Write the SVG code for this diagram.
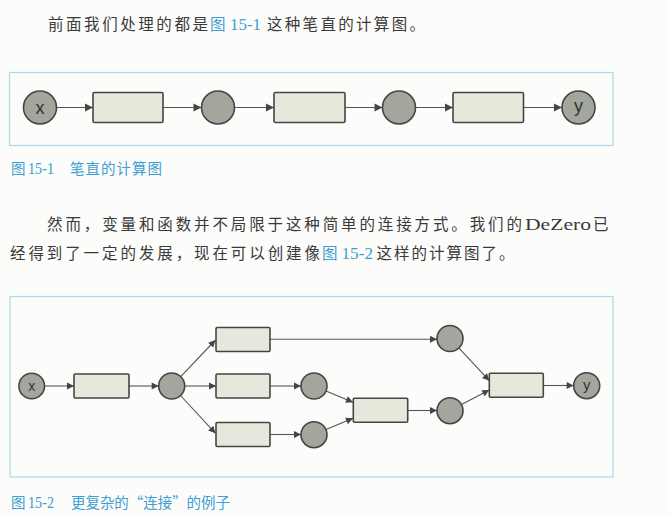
<svg xmlns="http://www.w3.org/2000/svg" width="669" height="516" viewBox="0 0 669 516">
<style>
.bg{fill:#fcfcfa}
.frame{fill:none;stroke:#a6dbe9;stroke-width:1.2}
.var{fill:#a3a69d;stroke:#454545;stroke-width:1.6}
.fn{fill:#e6e8dc;stroke:#454545;stroke-width:1.6}
.edge{fill:none;stroke:#555;stroke-width:1.1}
.body{font-family:"Noto Sans CJK SC","Liberation Serif",serif;font-size:15.5px;fill:#3a3a3a}
.lat{font-family:"Liberation Serif",serif;font-size:17.5px}
.blue{fill:#3d9fd2}
.cap{font-family:"Noto Sans CJK SC",sans-serif;font-size:14.5px;fill:#3d9fd2}
.capn{font-family:"Liberation Serif",serif;font-size:16px;fill:#3d9fd2}
.lbl{font-family:"Liberation Sans",Arial,sans-serif;fill:#333;text-anchor:middle}
</style>
<defs>
<marker id="ah" markerUnits="userSpaceOnUse" markerWidth="10" markerHeight="10" refX="9" refY="5" orient="auto">
<path d="M1,1 L9,5 L1,9 Z" fill="#444"/>
</marker>
<marker id="ahs" markerUnits="userSpaceOnUse" markerWidth="9" markerHeight="9" refX="8" refY="4.5" orient="auto">
<path d="M1,1 L8,4.5 L1,8 Z" fill="#444"/>
</marker>
</defs>
<rect class="bg" x="0" y="0" width="669" height="516"/>

<!-- paragraph 1 -->
<g id="para1">
<text class="body" x="48" y="30" textLength="160" lengthAdjust="spacing">前面我们处理的都是</text>
<text class="body blue" x="210" y="30">图</text>
<text class="body lat blue" x="230" y="30" textLength="31" lengthAdjust="spacingAndGlyphs">15-1</text>
<text class="body" x="267" y="30" textLength="158" lengthAdjust="spacing">这种笔直的计算图。</text>
</g>

<!-- figure 15-1 -->
<rect class="frame" x="9.5" y="72.5" width="603.5" height="73"/>
<g id="f1-edges">
<line class="edge" x1="56.5" y1="107.5" x2="93" y2="107.5" marker-end="url(#ah)"/>
<line class="edge" x1="163" y1="107.5" x2="201.5" y2="107.5" marker-end="url(#ah)"/>
<line class="edge" x1="234.5" y1="107.5" x2="274" y2="107.5" marker-end="url(#ah)"/>
<line class="edge" x1="345" y1="107.5" x2="382.5" y2="107.5" marker-end="url(#ah)"/>
<line class="edge" x1="415.5" y1="107.5" x2="453" y2="107.5" marker-end="url(#ah)"/>
<line class="edge" x1="523.5" y1="107.5" x2="562" y2="107.5" marker-end="url(#ah)"/>
</g>
<g id="f1-x"><circle class="var" cx="40" cy="107.5" r="16.5"/><text class="lbl" x="40" y="113.5" font-size="18">x</text></g>
<g id="f1-f1"><rect class="fn" x="93" y="92.5" width="70" height="30" rx="1.5"/></g>
<g id="f1-v1"><circle class="var" cx="218" cy="107.5" r="16.5"/></g>
<g id="f1-f2"><rect class="fn" x="274" y="92.5" width="71" height="30" rx="1.5"/></g>
<g id="f1-v2"><circle class="var" cx="399" cy="107.5" r="16.5"/></g>
<g id="f1-f3"><rect class="fn" x="453" y="92.5" width="70.5" height="30" rx="1.5"/></g>
<g id="f1-y"><circle class="var" cx="578.5" cy="107.5" r="16.5"/><text class="lbl" x="578.5" y="111.5" font-size="18">y</text></g>

<g id="cap1">
<text class="cap" x="11" y="174">图</text>
<text class="capn" x="28" y="174" textLength="26" lengthAdjust="spacingAndGlyphs">15-1</text>
<text class="cap" x="70" y="174" textLength="92" lengthAdjust="spacing">笔直的计算图</text>
</g>

<!-- paragraph 2 -->
<g id="para2">
<text class="body" x="47" y="229.5" textLength="475" lengthAdjust="spacing">然而，变量和函数并不局限于这种简单的连接方式。我们的</text>
<text class="body lat" x="525" y="229.5" font-size="18.5" textLength="66" lengthAdjust="spacingAndGlyphs">DeZero</text>
<text class="body" x="593" y="229.5">已</text>
<text class="body" x="10" y="259" textLength="310" lengthAdjust="spacing">经得到了一定的发展，现在可以创建像</text>
<text class="body blue" x="322" y="259">图</text>
<text class="body lat blue" x="341.5" y="259" textLength="31.5" lengthAdjust="spacingAndGlyphs">15-2</text>
<text class="body" x="376.5" y="259" textLength="138" lengthAdjust="spacing">这样的计算图了。</text>
</g>

<!-- figure 15-2 -->
<rect class="frame" x="10" y="296.5" width="603" height="180.5"/>
<g id="f2-edges">
<line class="edge" x1="44.5" y1="386" x2="74" y2="386" marker-end="url(#ahs)"/>
<line class="edge" x1="129" y1="386" x2="158.7" y2="386" marker-end="url(#ahs)"/>
<line class="edge" x1="180.7" y1="376.6" x2="215.5" y2="340" marker-end="url(#ahs)"/>
<line class="edge" x1="184.7" y1="386" x2="216" y2="386" marker-end="url(#ahs)"/>
<line class="edge" x1="180.5" y1="395.5" x2="215.5" y2="433.3" marker-end="url(#ahs)"/>
<line class="edge" x1="270" y1="339.3" x2="437" y2="339.3" marker-end="url(#ahs)"/>
<line class="edge" x1="270" y1="386" x2="301" y2="386" marker-end="url(#ahs)"/>
<line class="edge" x1="270" y1="434.5" x2="301" y2="434.5" marker-end="url(#ahs)"/>
<line class="edge" x1="326" y1="391" x2="353" y2="402.3" marker-end="url(#ahs)"/>
<line class="edge" x1="326" y1="429.6" x2="353" y2="418.3" marker-end="url(#ahs)"/>
<line class="edge" x1="407.7" y1="410.5" x2="437" y2="410.5" marker-end="url(#ahs)"/>
<line class="edge" x1="458.8" y1="347.9" x2="489.3" y2="380.7" marker-end="url(#ahs)"/>
<line class="edge" x1="461.5" y1="404.6" x2="489.3" y2="390" marker-end="url(#ahs)"/>
<line class="edge" x1="543.3" y1="385.5" x2="573.7" y2="385.5" marker-end="url(#ahs)"/>
</g>
<g id="f2-x"><circle class="var" cx="31.7" cy="386" r="12.8"/><text class="lbl" x="31.7" y="390.5" font-size="14">x</text></g>
<g id="f2-fA"><rect class="fn" x="74" y="374" width="55" height="24" rx="1.2"/></g>
<g id="f2-vB"><circle class="var" cx="171.7" cy="386" r="13"/></g>
<g id="f2-fTop"><rect class="fn" x="216" y="327.5" width="54" height="24" rx="1.2"/></g>
<g id="f2-fMid"><rect class="fn" x="216" y="374" width="54" height="24" rx="1.2"/></g>
<g id="f2-fBot"><rect class="fn" x="216" y="422.5" width="54" height="24" rx="1.2"/></g>
<g id="f2-vMid"><circle class="var" cx="314" cy="386" r="13"/></g>
<g id="f2-vBot"><circle class="var" cx="314" cy="434.7" r="13"/></g>
<g id="f2-vTop"><circle class="var" cx="450" cy="338.5" r="13"/></g>
<g id="f2-fMerge"><rect class="fn" x="353.3" y="398.3" width="54.4" height="24" rx="1.2"/></g>
<g id="f2-vMerge"><circle class="var" cx="450" cy="410.7" r="13"/></g>
<g id="f2-fFinal"><rect class="fn" x="489.3" y="373.3" width="54" height="24" rx="1.2"/></g>
<g id="f2-y"><circle class="var" cx="586.7" cy="385.7" r="13"/><text class="lbl" x="586.7" y="389.5" font-size="15">y</text></g>

<g id="cap2">
<text class="cap" x="11" y="508">图</text>
<text class="capn" x="28" y="508" textLength="26" lengthAdjust="spacingAndGlyphs">15-2</text>
<text class="cap" x="71" y="508" textLength="159" lengthAdjust="spacing">更复杂的“连接”的例子</text>
</g>
</svg>
